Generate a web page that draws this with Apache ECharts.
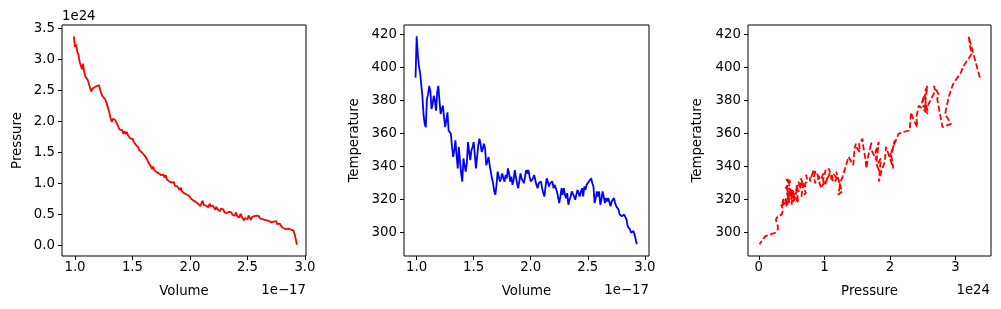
<!DOCTYPE html>
<html lang="en">

<head>
    <meta charset="UTF-8">
    <title>PVT</title>
    <script src="https://cdn.jsdelivr.net/npm/echarts@6/dist/echarts.min.js"></script>
    <style>
        * {
            margin: 0;
            padding: 0
        }

        html,
        body {
            width: 1001px;
            height: 309px;
            background: #fff;
        }
    </style>
</head>

<body>
    <div id="main" style="width:1001px;height:309px"></div>

    <script>
        // volume in units of 1e-17, pressure in units of 1e24
        var volume = [
            0.99, 1.00, 1.01, 1.02, 1.03, 1.04, 1.05, 1.06, 1.07, 1.08,
            1.09, 1.10, 1.11, 1.12, 1.13, 1.14, 1.15, 1.16, 1.17, 1.18,
            1.19, 1.20, 1.21, 1.22, 1.23, 1.24, 1.25, 1.26, 1.27, 1.28,
            1.29, 1.30, 1.31, 1.32, 1.33, 1.34, 1.35, 1.36, 1.37, 1.38,
            1.39, 1.40, 1.41, 1.42, 1.43, 1.44, 1.45, 1.46, 1.47, 1.48,
            1.49, 1.50, 1.51, 1.52, 1.53, 1.54, 1.55, 1.56, 1.57, 1.58,
            1.59, 1.60, 1.61, 1.62, 1.63, 1.64, 1.65, 1.66, 1.67, 1.68,
            1.69, 1.70, 1.71, 1.72, 1.73, 1.74, 1.75, 1.76, 1.77, 1.78,
            1.79, 1.80, 1.81, 1.82, 1.83, 1.84, 1.85, 1.86, 1.87, 1.88,
            1.89, 1.90, 1.91, 1.92, 1.93, 1.94, 1.95, 1.96, 1.97, 1.98,
            1.99, 2.00, 2.01, 2.02, 2.03, 2.04, 2.05, 2.06, 2.07, 2.08,
            2.09, 2.10, 2.11, 2.12, 2.13, 2.14, 2.15, 2.16, 2.17, 2.18,
            2.19, 2.20, 2.21, 2.22, 2.23, 2.24, 2.25, 2.26, 2.27, 2.28,
            2.29, 2.30, 2.31, 2.32, 2.33, 2.34, 2.35, 2.36, 2.37, 2.38,
            2.39, 2.40, 2.41, 2.42, 2.43, 2.44, 2.45, 2.46, 2.47, 2.48,
            2.49, 2.50, 2.51, 2.52, 2.53, 2.54, 2.55, 2.56, 2.57, 2.58,
            2.59, 2.60, 2.61, 2.62, 2.63, 2.64, 2.65, 2.66, 2.67, 2.68,
            2.69, 2.70, 2.71, 2.72, 2.73, 2.74, 2.75, 2.76, 2.77, 2.78,
            2.79, 2.80, 2.81, 2.82, 2.83, 2.84, 2.85, 2.86, 2.87, 2.88,
            2.89, 2.90, 2.91, 2.92, 2.93
        ];
        var pressure = [
            3.37, 3.20, 3.24, 3.12, 3.08, 2.96, 2.90, 2.84, 2.93, 2.80,
            2.72, 2.74, 2.67, 2.69, 2.55, 2.48, 2.52, 2.50, 2.55, 2.53,
            2.57, 2.54, 2.58, 2.50, 2.44, 2.40, 2.42, 2.36, 2.32, 2.30,
            2.20, 2.13, 2.05, 1.99, 2.04, 2.07, 2.02, 2.05, 1.94, 1.92,
            1.86, 1.83, 1.86, 1.80, 1.84, 1.79, 1.83, 1.78, 1.79, 1.72,
            1.70, 1.72, 1.67, 1.64, 1.62, 1.59, 1.58, 1.53, 1.54, 1.50,
            1.48, 1.46, 1.44, 1.41, 1.37, 1.33, 1.30, 1.27, 1.23, 1.27,
            1.21, 1.24, 1.18, 1.20, 1.16, 1.19, 1.13, 1.10, 1.14, 1.09,
            1.13, 1.06, 1.08, 1.03, 1.05, 1.01, 0.98, 1.02, 0.96, 0.99,
            0.95, 0.92, 0.89, 0.93, 0.87, 0.86, 0.84, 0.87, 0.82, 0.84,
            0.80, 0.78, 0.75, 0.78, 0.72, 0.74, 0.70, 0.72, 0.67, 0.66,
            0.63, 0.68, 0.72, 0.65, 0.67, 0.64, 0.66, 0.61, 0.67, 0.63,
            0.60, 0.64, 0.61, 0.57, 0.62, 0.58, 0.60, 0.55, 0.59, 0.56,
            0.58, 0.53, 0.55, 0.52, 0.50, 0.54, 0.51, 0.53, 0.49, 0.52,
            0.48, 0.53, 0.47, 0.50, 0.45, 0.51, 0.46, 0.49, 0.40, 0.44,
            0.47, 0.42, 0.48, 0.45, 0.41, 0.46, 0.43, 0.47, 0.44, 0.48,
            0.45, 0.47, 0.43, 0.46, 0.42, 0.45, 0.41, 0.43, 0.40, 0.42,
            0.39, 0.42, 0.37, 0.40, 0.38, 0.36, 0.39, 0.34, 0.37, 0.35,
            0.32, 0.29, 0.31, 0.27, 0.30, 0.26, 0.29, 0.27, 0.29, 0.25,
            0.28, 0.24, 0.18, 0.10, 0.01
        ];
        var temperature = [
            394, 419, 408, 401, 397, 390, 383, 372, 366, 364,
            381, 384, 389, 386, 375, 378, 383, 380, 374, 385,
            389, 380, 372, 375, 377, 370, 364, 368, 373, 362,
            361, 360, 352, 346, 350, 356, 347, 339, 352, 343,
            336, 331, 345, 341, 337, 342, 355, 349, 344, 350,
            352, 355, 347, 339, 346, 353, 357, 354, 349, 351,
            354, 351, 341, 343, 346, 341, 337, 333, 330, 325,
            323, 329, 337, 334, 331, 333, 336, 333, 331, 335,
            333, 339, 336, 331, 334, 329, 332, 338, 334, 330,
            327, 331, 336, 333, 332, 330, 334, 338, 336, 338,
            334, 331, 330, 333, 335, 332, 329, 327, 330, 329,
            331, 327, 324, 322, 328, 333, 331, 328, 330, 329,
            331, 327, 329, 328, 325, 326, 318, 322, 327, 323,
            327, 323, 321, 324, 317, 320, 322, 325, 326, 322,
            320, 323, 326, 324, 322, 325, 327, 322, 328, 326,
            329, 328, 331, 332, 333, 330, 328, 318, 321, 325,
            322, 325, 317, 320, 325, 322, 318, 321, 319, 321,
            321, 316, 319, 320, 321, 318, 316, 317, 314, 311,
            311, 310, 309, 311, 311, 308, 304, 303, 302, 300,
            300, 301, 299, 298, 293
        ];
        var volumeTicks = [1.0, 1.5, 2.0, 2.5, 3.0];
        var pressureTicksY = [0.0, 0.5, 1.0, 1.5, 2.0, 2.5, 3.0, 3.5];
        var pressureTicksX = [0, 1, 2, 3];
        var tempTicks = [300, 320, 340, 360, 380, 400, 420];

        var font = 'DejaVu Sans';
        var fs = 13.3;

        function pairs(xs, ys) {
            return xs.map(function (x, i) { return [x, ys[i]]; });
        }

        function axis(idx, ticks, min, max, digits, name, gap, margin) {
            return {
                type: 'value',
                gridIndex: idx,
                min: min,
                max: max,
                name: name,
                nameLocation: 'middle',
                nameGap: gap,
                nameTextStyle: { color: '#000', fontFamily: font, fontSize: fs },
                axisLine: { show: false, onZero: false },
                axisTick: {
                    show: true, inside: false, length: 4,
                    customValues: ticks,
                    lineStyle: { color: '#000', width: 1 }
                },
                axisLabel: {
                    show: true, margin: margin,
                    customValues: ticks,
                    color: '#000', fontFamily: font, fontSize: fs,
                    formatter: function (v) { return v.toFixed(digits); }
                },
                splitLine: { show: false }
            };
        }

        var grids = [
            { left: 62, top: 25, width: 244, height: 231 },
            { left: 404, top: 25, width: 245, height: 231 },
            { left: 748, top: 25, width: 243, height: 231 }
        ].map(function (g) {
            g.show = true;
            g.borderColor = '#000';
            g.borderWidth = 1;
            g.backgroundColor = '#fff';
            return g;
        });

        var offsetFont = fs + 'px "DejaVu Sans"';

        var chart = echarts.init(document.getElementById('main'));
        chart.setOption({
            animation: false,
            backgroundColor: '#fff',
            grid: grids,
            xAxis: [
                axis(0, volumeTicks, 0.887, 3.009, 1, 'Volume', 29, 5),
                axis(1, volumeTicks, 0.889, 3.037, 1, 'Volume', 29, 5),
                axis(2, pressureTicksX, -0.165, 3.54, 0, 'Pressure', 29, 5)
            ],
            yAxis: [
                axis(0, pressureTicksY, -0.173, 3.553, 1, 'Pressure', 38, 7),
                axis(1, tempTicks, 285.9, 425.9, 0, 'Temperature', 43, 7),
                axis(2, tempTicks, 285.9, 425.9, 0, 'Temperature', 44, 7)
            ],
            graphic: [
                { type: 'text', left: 62, top: 10, style: { text: '1e24', fill: '#000', font: offsetFont } },
                { type: 'text', right: 695, top: 284, style: { text: '1e\u221217', fill: '#000', font: offsetFont } },
                { type: 'text', right: 352, top: 284, style: { text: '1e\u221217', fill: '#000', font: offsetFont } },
                { type: 'text', right: 11, top: 284, style: { text: '1e24', fill: '#000', font: offsetFont } }
            ],
            series: [{
                type: 'line',
                xAxisIndex: 0,
                yAxisIndex: 0,
                data: pairs(volume, pressure),
                showSymbol: false,
                lineStyle: { color: '#ff0000', width: 1.8 }
            }, {
                type: 'line',
                xAxisIndex: 1,
                yAxisIndex: 1,
                data: pairs(volume, temperature),
                showSymbol: false,
                lineStyle: { color: '#0000ff', width: 1.8 }
            }, {
                type: 'line',
                xAxisIndex: 2,
                yAxisIndex: 2,
                data: pairs(pressure, temperature),
                showSymbol: false,
                lineStyle: { color: '#ff0000', width: 1.8, type: [6, 2.6] }
            }]
        });
    </script>
</body>

</html>
